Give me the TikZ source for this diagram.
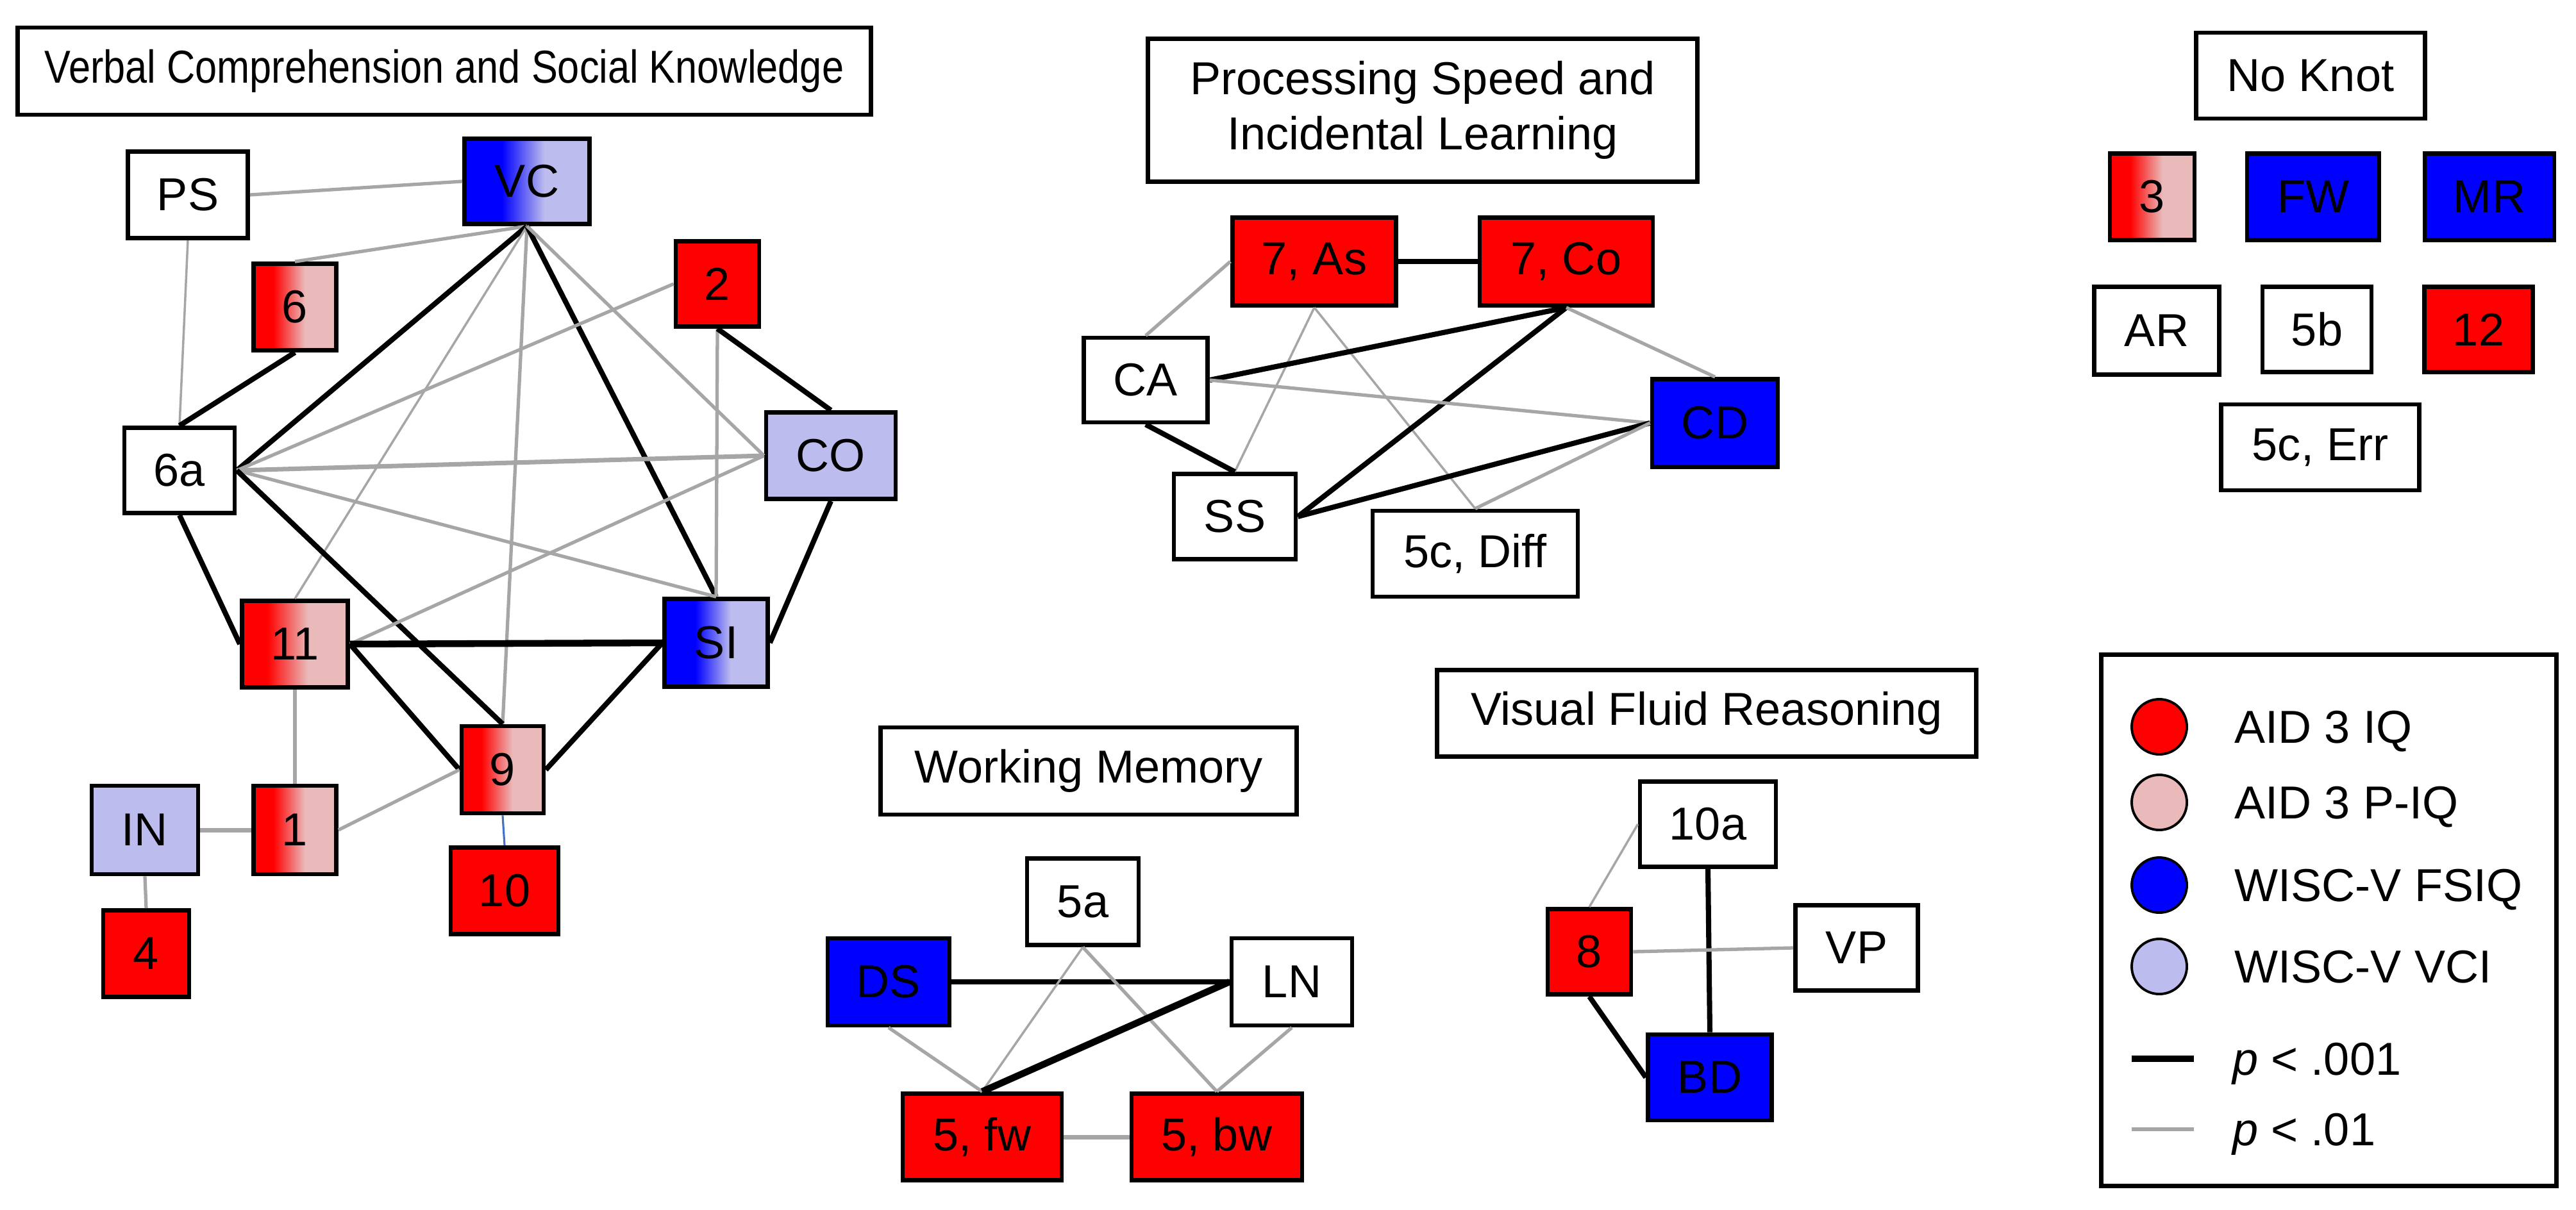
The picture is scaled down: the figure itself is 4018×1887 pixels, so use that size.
\documentclass[tikz,border=0pt]{standalone}
\usepackage{fontspec}
\setmainfont{Liberation Sans}
\usepackage{graphicx}
\definecolor{myred}{HTML}{FF0000}
\definecolor{mypink}{HTML}{EAB9B9}
\definecolor{myblue}{HTML}{0000FF}
\definecolor{mylav}{HTML}{BCBCEE}
\definecolor{mygray}{HTML}{A6A6A6}
\definecolor{mylink}{HTML}{4472C4}
\pgfdeclarehorizontalshading{redpink}{100bp}{color(0bp)=(myred); color(37bp)=(myred); color(56bp)=(mypink); color(100bp)=(mypink)}
\pgfdeclarehorizontalshading{bluelav}{100bp}{color(0bp)=(myblue); color(40bp)=(myblue); color(57bp)=(mylav); color(100bp)=(mylav)}
\begin{document}
\begin{tikzpicture}[x=0.01cm, y=-0.01cm,
  boxbase/.style={draw, line width=1.9pt, inner sep=0pt, minimum height=1.35cm, font=\fontsize{20.5}{24.5}\selectfont},
  boxW/.style={boxbase, fill=white},
  boxR/.style={boxbase, fill=myred},
  boxB/.style={boxbase, fill=myblue},
  boxL/.style={boxbase, fill=mylav},
  boxRP/.style={boxbase, shading=redpink},
  boxBL/.style={boxbase, shading=bluelav},
  sigA/.style={line width=2.3pt, black},
  sigAA/.style={line width=3pt, black},
  sigB/.style={line width=1.5pt, mygray},
  sigBB/.style={line width=2pt, mygray},
  sigBt/.style={line width=1pt, mygray},
  legtext/.style={anchor=base west, font=\fontsize{20.5}{24.5}\selectfont, inner sep=0pt},
  legdot/.style={circle, draw, line width=1.1pt, minimum size=0.86cm, inner sep=0pt},
]
\path[use as bounding box, fill=white] (0,0) rectangle (4018,1887);

% ---------------- Verbal Comprehension and Social Knowledge
\node[boxW, minimum width=13.3cm, minimum height=1.36cm] (t1) at (693,111)
  {\scalebox{0.85}[1]{Verbal Comprehension and Social Knowledge}};
\node[boxW, minimum width=1.87cm] (PS) at (293,304) {PS};
\node[boxBL, minimum width=1.95cm, minimum height=1.33cm] (VC) at (822,283) {VC};
\node[boxRP, minimum width=1.29cm] (n6) at (460,479) {6};
\node[boxR, minimum width=1.30cm, minimum height=1.33cm] (n2) at (1119,443) {2};
\node[boxW, minimum width=1.72cm, minimum height=1.33cm] (n6a) at (280,734) {6a};
\node[boxL, minimum width=2.02cm] (CO) at (1296,711) {CO};
\node[boxRP, minimum width=1.65cm] (n11) at (460,1005) {11};
\node[boxBL, minimum width=1.61cm, minimum height=1.37cm] (SI) at (1117,1003) {SI};
\node[boxRP, minimum width=1.28cm, minimum height=1.36cm] (n9) at (784,1201) {9};
\node[boxL, minimum width=1.66cm, minimum height=1.38cm] (IN) at (226,1295) {IN};
\node[boxRP, minimum width=1.29cm, minimum height=1.38cm] (n1) at (460,1295) {1};
\node[boxR, minimum width=1.68cm] (n10) at (787,1390) {10};
\node[boxR, minimum width=1.34cm] (n4) at (228,1488) {4};

\draw[sigB] (PS.east) -- (VC.west);
\draw[sigBt] (PS.south) -- (n6a.north);
\draw[sigB] (VC.south) -- (n6.north);
\draw[sigA] (n6.south) -- (n6a.north);
\draw[sigA] (VC.south) -- (n6a.east);
\draw[sigBt] (VC.south) -- (n11.north);
\draw[sigB] (VC.south) -- (n9.north);
\draw[sigA] (VC.south) -- (SI.north);
\draw[sigB] (VC.south) -- (CO.west);
\draw[sigB] (n2.west) -- (n6a.east);
\draw[sigB] (n2.south) -- (SI.north);
\draw[sigA] (n2.south) -- (CO.north);
\draw[sigBB] (n6a.east) -- (CO.west);
\draw[sigB] (n6a.east) -- (SI.north);
\draw[sigA] (n6a.south) -- (n11.west);
\draw[sigA] (n6a.east) -- (n9.north);
\draw[sigB] (CO.west) -- (n11.east);
\draw[sigA] (CO.south) -- (SI.east);
\draw[sigAA] (n11.east) -- (SI.west);
\draw[sigA] (n11.east) -- (n9.west);
\draw[sigB] (n11.south) -- (n1.north);
\draw[sigA] (SI.west) -- (n9.east);
\draw[sigB] (n9.west) -- (n1.east);
\draw[sigBB] (IN.east) -- (n1.west);
\draw[sigB] (IN.south) -- (n4.north);
\draw[line width=0.9pt, mylink] (n9.south) -- (n10.north);

% ---------------- Processing Speed and Incidental Learning
\node[boxW, minimum width=8.56cm, minimum height=2.23cm, align=center] (t2) at (2219,172)
  {Processing Speed and\\Incidental Learning};
\node[boxR, minimum width=2.55cm, minimum height=1.37cm] (As) at (2050,408) {7, As};
\node[boxR, minimum width=2.70cm, minimum height=1.37cm] (Co) at (2443,408) {7, Co};
\node[boxW, minimum width=1.93cm, minimum height=1.32cm] (CA) at (1787,593) {CA};
\node[boxB, minimum width=1.96cm, minimum height=1.37cm] (CD) at (2675,660) {CD};
\node[boxW, minimum width=1.90cm, minimum height=1.33cm] (SS) at (1926,806) {SS};
\node[boxW, minimum width=3.20cm, minimum height=1.34cm] (Diff) at (2301,864) {5c, Diff};

\draw[sigA] (As.east) -- (Co.west);
\draw[sigB] (As.west) -- (CA.north);
\draw[sigBt] (As.south) -- (SS.north);
\draw[sigBt] (As.south) -- (Diff.north);
\draw[sigA] (Co.south) -- (CA.east);
\draw[sigA] (Co.south) -- (SS.east);
\draw[sigB] (Co.south) -- (CD.north);
\draw[sigB] (CA.east) -- (CD.west);
\draw[sigA] (CA.south) -- (SS.north);
\draw[sigA] (SS.east) -- (CD.west);
\draw[sigB] (Diff.north) -- (CD.west);

% ---------------- No Knot
\node[boxW, minimum width=3.57cm, minimum height=1.34cm] (t3) at (3604,118) {No Knot};
\node[boxRP, minimum width=1.32cm] (n3) at (3357,307) {3};
\node[boxB, minimum width=2.06cm] (FW) at (3608,307) {FW};
\node[boxB, minimum width=2.02cm] (MR) at (3883,307) {MR};
\node[boxW, minimum width=1.95cm, minimum height=1.37cm] (AR) at (3364,516) {AR};
\node[boxW, minimum width=1.70cm, minimum height=1.33cm] (n5b) at (3614,514) {5b};
\node[boxR, minimum width=1.69cm, minimum height=1.33cm] (n12) at (3866,514) {12};
\node[boxW, minimum width=3.09cm, minimum height=1.34cm] (Err) at (3619,698) {5c, Err};

% ---------------- Working Memory
\node[boxW, minimum width=6.49cm, minimum height=1.36cm] (t4) at (1698,1203) {Working Memory};
\node[boxW, minimum width=1.74cm] (n5a) at (1689,1407) {5a};
\node[boxB, minimum width=1.90cm, minimum height=1.36cm] (DS) at (1386,1532) {DS};
\node[boxW, minimum width=1.88cm, minimum height=1.36cm] (LN) at (2015,1532) {LN};
\node[boxR, minimum width=2.48cm] (fw) at (1532,1774) {5, fw};
\node[boxR, minimum width=2.66cm] (bw) at (1898,1774) {5, bw};

\draw[sigA] (DS.east) -- (LN.west);
\draw[sigB] (DS.south) -- (fw.north);
\draw[sigBt] (n5a.south) -- (fw.north);
\draw[sigB] (n5a.south) -- (bw.north);
\draw[sigAA] (LN.west) -- (fw.north);
\draw[sigB] (LN.south) -- (bw.north);
\draw[sigBB] (fw.east) -- (bw.west);

% ---------------- Visual Fluid Reasoning
\node[boxW, minimum width=8.41cm] (t5) at (2662,1113) {Visual Fluid Reasoning};
\node[boxW, minimum width=2.12cm, minimum height=1.33cm] (n10a) at (2664,1286) {10a};
\node[boxR, minimum width=1.30cm, minimum height=1.33cm] (n8) at (2479,1485) {8};
\node[boxW, minimum width=1.91cm, minimum height=1.33cm] (VP) at (2896,1479) {VP};
\node[boxB, minimum width=1.93cm, minimum height=1.34cm] (BD) at (2667,1681) {BD};

\draw[sigBt] (n10a.west) -- (n8.north);
\draw[sigA] (n10a.south) -- (BD.north);
\draw[sigB] (n8.east) -- (VP.west);
\draw[sigA] (n8.south) -- (BD.west);

% ---------------- Legend
\node[draw, line width=1.9pt, minimum width=7.09cm, minimum height=8.28cm, inner sep=0pt] (leg) at (3632.5,1436) {};
\node[legdot, fill=myred] (d1) at (3368,1134) {};
\node[legdot, fill=mypink] (d2) at (3368,1252) {};
\node[legdot, fill=myblue] (d3) at (3368,1381) {};
\node[legdot, fill=mylav] (d4) at (3368,1508) {};
\node[legtext] (l1) at (3485,1159) {AID 3 IQ};
\node[legtext] (l2) at (3485,1277) {AID 3 P-IQ};
\node[legtext] (l3) at (3485,1406) {WISC-V FSIQ};
\node[legtext] (l4) at (3485,1533) {WISC-V VCI};
\coordinate (s1a) at (3325,1652);
\coordinate (s1b) at (3422,1652);
\coordinate (s2a) at (3325,1762);
\coordinate (s2b) at (3422,1762);
\draw[line width=2.8pt, black] (s1a) -- (s1b);
\draw[line width=1.6pt, mygray] (s2a) -- (s2b);
\node[legtext] (l5) at (3482,1677) {\textit{p} < .001};
\node[legtext] (l6) at (3482,1787) {\textit{p} < .01};
\end{tikzpicture}
\end{document}
